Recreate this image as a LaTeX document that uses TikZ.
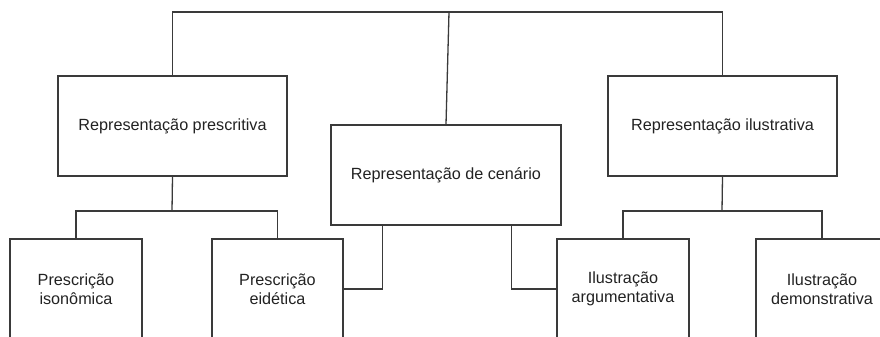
\documentclass[tikz,border=0pt]{standalone}
\usepackage{fontspec}
\setmainfont{Liberation Sans}
\definecolor{linec}{HTML}{3A3A3A}
\definecolor{textc}{HTML}{222222}
\begin{document}
\begin{tikzpicture}[x=1pt,y=-1pt,
  box/.style={draw=linec, line width=1.3pt, inner sep=0pt, minimum height=100pt,
    text=textc, align=center, font=\fontsize{16.2}{19.5}\selectfont},
  wide/.style={box, minimum width=229pt},
  small/.style={box, minimum width=132pt},
  link/.style={draw=linec, line width=1.3pt}]
\useasboundingbox (0,0) rectangle (880,337);
\clip (0,0) rectangle (880,337);
\node[wide] (L) at (172.5,126) {Representação prescritiva};
\node[wide] (R) at (722.5,126) {Representação ilustrativa};
\node[box, minimum width=230pt] (C) at (446,175) {Representação de cenário};
\node[small] (c1) at (76,289) {Prescrição\\isonômica};
\node[small, minimum width=131pt] (c2) at (277.5,289) {Prescrição\\eidética};
\node[small] (c3) at (623,289) {Ilustração\\argumentativa};
\node[small] (c4) at (822,289) {Ilustração\\demonstrativa};
\coordinate (top) at (449,12);
\coordinate (jl) at (172,211);
\coordinate (jr) at (722,211);
\draw[link] (L.north) -- (L.north |- top) -- (R.north |- top) -- (R.north);
\draw[link] (top) -- (C.north);
\draw[link] (L.south) -- (jl);
\draw[link] (c1.north) -- (c1.north |- jl) -- (c2.north |- jl) -- (c2.north);
\draw[link] (R.south) -- (jr);
\draw[link] (c3.north) -- (c3.north |- jr) -- (c4.north |- jr) -- (c4.north);
\draw[link] ([xshift=52pt]C.south west) |- (c2.east);
\draw[link] ([xshift=181pt]C.south west) |- (c3.west);
\end{tikzpicture}
\end{document}
